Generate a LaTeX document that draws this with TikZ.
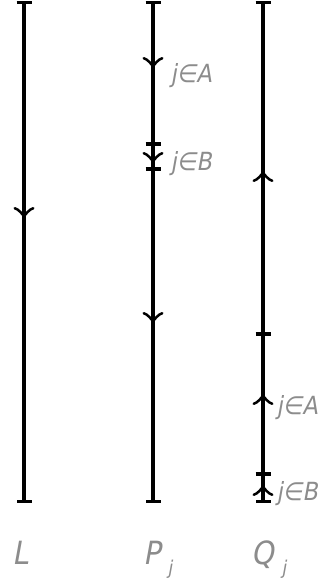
\documentclass[tikz,border=0pt]{standalone}
\usepackage{fontspec}
\newfontfamily\lab{DejaVu Sans Condensed}[FakeSlant=0.18]
\usetikzlibrary{arrows.meta}
\begin{document}
\begin{tikzpicture}[x=1pt,y=-1pt,line width=3.1pt,
  barend/.style={{Bar[width=15pt]}-{Bar[width=15pt]}},
  dirtip/.style={-{Classical TikZ Rightarrow[width=21pt,length=11pt]}},
  lbl/.style={text=black!45,font=\lab\fontsize{25}{30}\selectfont,inner sep=0pt,anchor=base west},
  biglbl/.style={lbl,font=\lab\fontsize{32}{34}\selectfont},
  sublbl/.style={text=black!45,font=\lab\fontsize{19}{20}\selectfont,inner sep=0pt,anchor=base west}]
\useasboundingbox (0,0) rectangle (324,581);
% line ends
\coordinate (Lt) at (24,1);   \coordinate (Lb) at (24,503);
\coordinate (Pt) at (153,1);  \coordinate (Pb) at (153,503);
\coordinate (Qt) at (263,1);  \coordinate (Qb) at (263,503);
\draw[barend] (Lt) -- (Lb);
\draw[barend] (Pt) -- (Pb);
\draw[barend] (Qt) -- (Qb);
% intermediate ticks
\coordinate (P1) at (153,144); \coordinate (P2) at (153,169);
\coordinate (Q1) at (263,334); \coordinate (Q2) at (263,474);
\foreach \c in {P1,P2,Q1,Q2}
  \draw ([xshift=-7.5pt]\c) -- ([xshift=7.5pt]\c);
% direction arrows (tail, tip)
\coordinate (La0) at (24,204);  \coordinate (La) at (24,218);
\coordinate (Pa0) at (153,54);  \coordinate (Pa) at (153,68);
\coordinate (Pb0) at (153,149); \coordinate (Pbt) at (153,163);
\coordinate (Pc0) at (153,309); \coordinate (Pc) at (153,323);
\coordinate (Qa0) at (263,185); \coordinate (Qa) at (263,171);
\coordinate (Qb0) at (263,408); \coordinate (Qbt) at (263,394);
\coordinate (Qc0) at (263,499); \coordinate (Qc) at (263,485);
\draw[dirtip] (La0) -- (La);
\draw[dirtip] (Pa0) -- (Pa);
\draw[dirtip] (Pb0) -- (Pbt);
\draw[dirtip] (Pc0) -- (Pc);
\draw[dirtip] (Qa0) -- (Qa);
\draw[dirtip] (Qb0) -- (Qbt);
\draw[dirtip] (Qc0) -- (Qc);
% labels
\node[lbl] (lPA) at (169,82) {j∈A};
\node[lbl] (lPB) at (169,170) {j∈B};
\node[lbl] (lQA) at (275,414) {j∈A};
\node[lbl] (lQB) at (275,500) {j∈B};
\node[biglbl] (nL) at (11,564) {L};
\node[biglbl] (nP) at (142,564) {P};
\node[sublbl] (nPj) at (166,574) {j};
\node[biglbl] (nQ) at (250,564) {Q};
\node[sublbl] (nQj) at (280,574) {j};
\end{tikzpicture}
\end{document}
